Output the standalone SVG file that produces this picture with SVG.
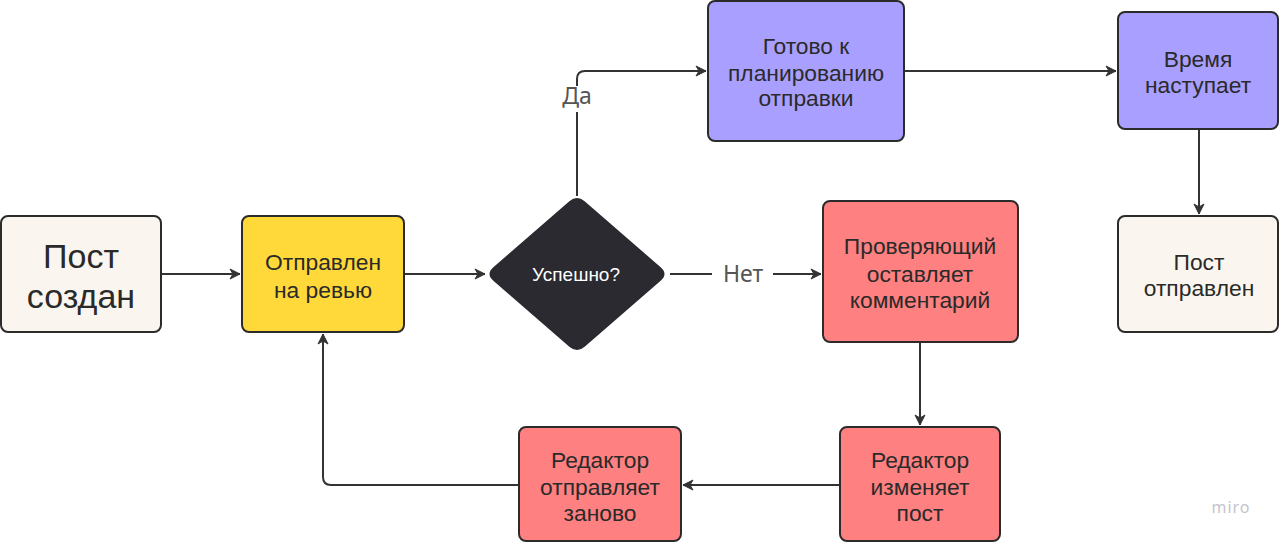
<svg xmlns="http://www.w3.org/2000/svg" width="1280" height="543" viewBox="0 0 1280 543">
<defs>
<marker id="ah" viewBox="0 0 12 12" refX="11" refY="6" markerWidth="12" markerHeight="12" markerUnits="userSpaceOnUse" orient="auto">
<path d="M1,1 L11,6 L1,11 L4,6 z" fill="#333333" stroke="#333333" stroke-width="1" stroke-linejoin="round"/>
</marker>
<style>
.box{stroke:#2b2b2b;stroke-width:2}
.cream{fill:#faf6ef}
.yellow{fill:#ffd93a}
.red{fill:#ff8080}
.violet{fill:#a99fff}
.t{font-family:"Liberation Sans",Arial,sans-serif;fill:#2a2a2a;text-anchor:middle;font-size:22.8px}
.big{font-size:34px}
.lbl{font-family:"Noto Sans","Open Sans",sans-serif;fill:#555555;text-anchor:middle;font-size:23px}
.c{fill:none;stroke:#333333;stroke-width:2}
</style>
</defs>
<rect width="1280" height="543" fill="#ffffff"/>
<g id="connectors">
<path class="c" d="M161,274 L240,274" marker-end="url(#ah)"/>
<path class="c" d="M404,274 L485,274" marker-end="url(#ah)"/>
<path class="c" d="M670,274 L712,274"/>
<path class="c" d="M773,274 L821,274" marker-end="url(#ah)"/>
<path class="c" d="M577,196 L577,112"/>
<path class="c" d="M577,86 L577,79 Q577,71 585,71 L706,71" marker-end="url(#ah)"/>
<path class="c" d="M904,71 L1116,71" marker-end="url(#ah)"/>
<path class="c" d="M1199,129 L1199,214" marker-end="url(#ah)"/>
<path class="c" d="M920,342 L920,425" marker-end="url(#ah)"/>
<path class="c" d="M840,485 L683,485" marker-end="url(#ah)"/>
<path class="c" d="M519,485 L331,485 Q323,485 323,477 L323,334" marker-end="url(#ah)"/>
<text class="lbl" x="577" y="104">Да</text>
<text class="lbl" x="743" y="282">Нет</text>
</g>
<g id="n-created">
<rect class="box cream" x="1" y="216" width="160" height="116" rx="7"/>
<text class="t big" x="81" y="268">Пост</text>
<text class="t big" x="81" y="308">создан</text>
</g>
<g id="n-review">
<rect class="box yellow" x="242" y="216" width="162" height="116" rx="7"/>
<text class="t" x="323" y="270">Отправлен</text>
<text class="t" x="323" y="298">на ревью</text>
</g>
<g id="n-decision">
<path d="M570,202 Q577,196 584,202 L660,268 Q667,274 660,280 L584,346 Q577,352 570,346 L494,280 Q487,274 494,268 Z" fill="#2a2a30" stroke="#2a2a30" stroke-width="2"/>
<text x="576" y="281" font-size="19" font-family="Liberation Sans,Arial,sans-serif" fill="#ffffff" text-anchor="middle">Успешно?</text>
</g>
<g id="n-ready">
<rect class="box violet" x="708" y="1" width="196" height="140" rx="7"/>
<text class="t" x="806" y="54">Готово к</text>
<text class="t" x="806" y="81">планированию</text>
<text class="t" x="806" y="106">отправки</text>
</g>
<g id="n-time">
<rect class="box violet" x="1118" y="12" width="160" height="117" rx="7"/>
<text class="t" x="1198" y="67">Время</text>
<text class="t" x="1198" y="93">наступает</text>
</g>
<g id="n-sent">
<rect class="box cream" x="1118" y="216" width="160" height="116" rx="7"/>
<text class="t" x="1199" y="270">Пост</text>
<text class="t" x="1199" y="296">отправлен</text>
</g>
<g id="n-reviewer">
<rect class="box red" x="823" y="201" width="195" height="141" rx="7"/>
<text class="t" x="920" y="254">Проверяющий</text>
<text class="t" x="920" y="282">оставляет</text>
<text class="t" x="920" y="308">комментарий</text>
</g>
<g id="n-edit">
<rect class="box red" x="840" y="427" width="160" height="114" rx="7"/>
<text class="t" x="920" y="468">Редактор</text>
<text class="t" x="920" y="495">изменяет</text>
<text class="t" x="920" y="521">пост</text>
</g>
<g id="n-resend">
<rect class="box red" x="519" y="427" width="162" height="114" rx="7"/>
<text class="t" x="600" y="468">Редактор</text>
<text class="t" x="600" y="495">отправляет</text>
<text class="t" x="600" y="521">заново</text>
</g>
<text x="1231" y="513" font-size="16" font-family="Noto Sans,sans-serif" fill="#c4c4cc" text-anchor="middle" letter-spacing="1">miro</text>
</svg>
